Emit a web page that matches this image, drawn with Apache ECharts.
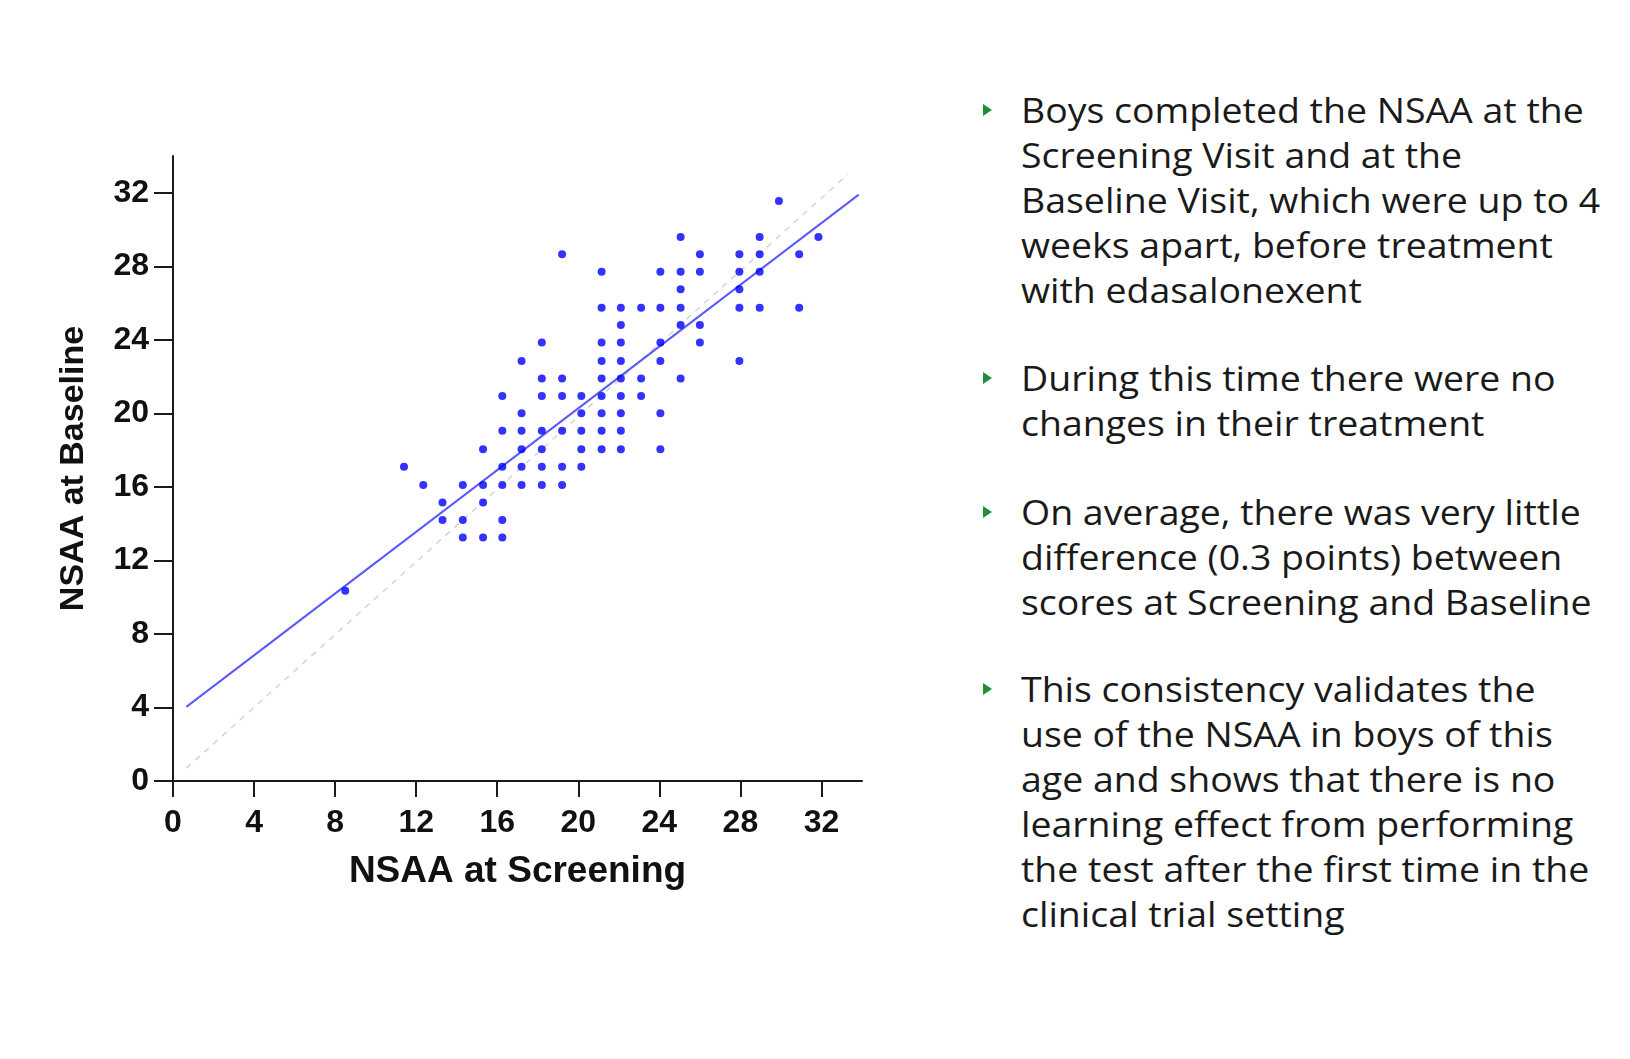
<!DOCTYPE html>
<html>
<head>
<meta charset="utf-8">
<script src="https://cdn.jsdelivr.net/npm/echarts@6/dist/echarts.min.js"></script>
<style>
  html, body { margin: 0; padding: 0; background: #fff; }
  #chart { position: absolute; left: 0; top: 0; width: 950px; height: 1059px; }
  .para { position: absolute; left: 1021px; font-family: 'Open Sans', sans-serif; font-size: 35px;
          line-height: 45px; color: #1a1a1a; white-space: nowrap;
          transform: scaleX(1.07); transform-origin: 0 0; }
  .bullet { position: absolute; left: 983px; width: 0; height: 0;
            border-top: 6.5px solid transparent; border-bottom: 6.5px solid transparent;
            border-left: 9px solid #1f8f3c; }
</style>
</head>
<body>
<div id="chart"></div>

<div class="bullet" style="top:104px"></div>
<div class="para" style="top:87px">Boys completed the NSAA at the<br>Screening Visit and at the<br>Baseline Visit, which were up to 4<br>weeks apart, before treatment<br>with edasalonexent</div>

<div class="bullet" style="top:372px"></div>
<div class="para" style="top:355px">During this time there were no<br>changes in their treatment</div>

<div class="bullet" style="top:506px"></div>
<div class="para" style="top:489px">On average, there was very little<br>difference (0.3 points) between<br>scores at Screening and Baseline</div>

<div class="bullet" style="top:683px"></div>
<div class="para" style="top:666px">This consistency validates the<br>use of the NSAA in boys of this<br>age and shows that there is no<br>learning effect from performing<br>the test after the first time in the<br>clinical trial setting</div>

<script>
// NSAA score at screening visit (x) and at baseline visit (y), one entry per boy
const screening = [
  8.5,
  11.4,
  12.35,
  13.3, 13.3,
  14.3, 14.3, 14.3,
  15.3, 15.3, 15.3, 15.3,
  16.25, 16.25, 16.25, 16.25, 16.25, 16.25,
  17.2, 17.2, 17.2, 17.2, 17.2, 17.2,
  18.2, 18.2, 18.2, 18.2, 18.2, 18.2, 18.2,
  19.2, 19.2, 19.2, 19.2, 19.2, 19.2,
  20.15, 20.15, 20.15, 20.15, 20.15,
  21.15, 21.15, 21.15, 21.15, 21.15, 21.15, 21.15, 21.15, 21.15,
  22.1, 22.1, 22.1, 22.1, 22.1, 22.1, 22.1, 22.1, 22.1,
  23.1, 23.1, 23.1,
  24.05, 24.05, 24.05, 24.05, 24.05, 24.05,
  25.05, 25.05, 25.05, 25.05, 25.05, 25.05,
  26.0, 26.0, 26.0, 26.0,
  27.95, 27.95, 27.95, 27.95, 27.95,
  28.95, 28.95, 28.95, 28.95,
  29.9,
  30.9, 30.9,
  31.85
]
const baseline = [
  10.35,
  17.1,
  16.1,
  15.15, 14.2,
  16.1, 14.2, 13.25,
  18.05, 16.1, 15.15, 13.25,
  20.95, 19.05, 17.1, 16.1, 14.2, 13.25,
  22.85, 20.0, 19.05, 18.05, 17.1, 16.1,
  23.85, 21.9, 20.95, 19.05, 18.05, 17.1, 16.1,
  28.65, 21.9, 20.95, 19.05, 17.1, 16.1,
  20.95, 20.0, 19.05, 18.05, 17.1,
  27.7, 25.75, 23.85, 22.85, 21.9, 20.95, 20.0, 19.05, 18.05,
  25.75, 24.8, 23.85, 22.85, 21.9, 20.95, 20.0, 19.05, 18.05,
  25.75, 21.9, 20.95,
  27.7, 25.75, 23.85, 22.85, 20.0, 18.05,
  29.6, 27.7, 26.75, 25.75, 24.8, 21.9,
  28.65, 27.7, 24.8, 23.85,
  28.65, 27.7, 26.75, 25.75, 22.85,
  29.6, 28.65, 27.7, 25.75,
  31.55,
  28.65, 25.75,
  29.6
]
// fitted regression line and the line of identity (end points as read)
const fitLine = [[0.66, 4.03], [33.84, 31.9]]
const identityLine = [[0.66, 0.7], [33.3, 33.0]]
const tickValues = [0, 4, 8, 12, 16, 20, 24, 28, 32]

const points = screening.map((x, i) => [x, baseline[i]])

const axisText = {
  color: '#111',
  fontFamily: 'Liberation Sans, Arial, sans-serif',
  fontWeight: 'bold',
  fontSize: 32
}

const option = {
  backgroundColor: '#fff',
  animation: false,
  grid: {
    left: 173,
    top: 156,
    width: 689,
    height: 625
  },
  xAxis: {
    type: 'value',
    min: 0,
    max: 34,
    interval: 4,
    name: 'NSAA at Screening',
    nameLocation: 'middle',
    nameGap: 72,
    nameTextStyle: {
      color: '#111',
      fontFamily: 'Liberation Sans, Arial, sans-serif',
      fontWeight: 'bold',
      fontSize: 37
    },
    axisLine: { show: true, onZero: false, lineStyle: { color: '#1a1a1a', width: 2 } },
    axisTick: { show: true, length: 16, customValues: tickValues, lineStyle: { color: '#1a1a1a', width: 2 } },
    axisLabel: Object.assign({ margin: 26, customValues: tickValues }, axisText),
    splitLine: { show: false }
  },
  yAxis: {
    type: 'value',
    min: 0,
    max: 34,
    interval: 4,
    name: 'NSAA at Baseline',
    nameLocation: 'middle',
    nameGap: 82,
    nameTextStyle: {
      color: '#111',
      fontFamily: 'Liberation Sans, Arial, sans-serif',
      fontWeight: 'bold',
      fontSize: 34
    },
    axisLine: { show: true, onZero: false, lineStyle: { color: '#1a1a1a', width: 2 } },
    axisTick: { show: true, length: 19, customValues: tickValues, lineStyle: { color: '#1a1a1a', width: 2 } },
    axisLabel: Object.assign({ margin: 24, customValues: tickValues }, axisText),
    splitLine: { show: false }
  },
  series: [{
    type: 'line',
    data: identityLine,
    showSymbol: false,
    silent: true,
    lineStyle: { color: '#d4d4d4', width: 1.5, type: [6, 6] },
    z: 1
  }, {
    type: 'line',
    data: fitLine,
    showSymbol: false,
    silent: true,
    lineStyle: { color: '#5a5aff', width: 2 },
    z: 2
  }, {
    type: 'scatter',
    data: points,
    symbolSize: 8,
    itemStyle: { color: '#0000ff' },
    z: 3
  }]
}

const chart = echarts.init(document.getElementById('chart'))
chart.setOption(option)
</script>
</body>
</html>
